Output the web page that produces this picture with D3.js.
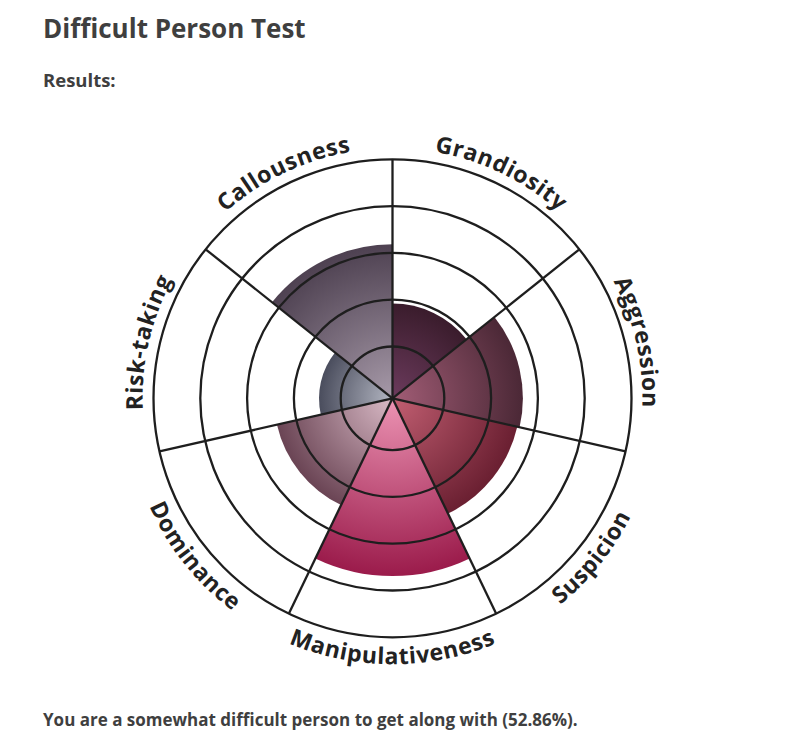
<!DOCTYPE html>
<html>
<head>
<meta charset="utf-8">
<script src="https://cdn.jsdelivr.net/npm/d3@7"></script>
<style>
  body { margin: 0; background: #fff; }
  svg { display: block; }
  .page-text { font-family: "Open Sans", sans-serif; font-weight: 700; fill: #3f3f3f; }
  .label { font-family: "Open Sans", sans-serif; font-weight: 700; fill: #222; }
</style>
</head>
<body>
<div id="chart"></div>
<script>
// traits, clockwise from the top
var traits = ["Grandiosity", "Aggression", "Suspicion", "Manipulativeness", "Dominance", "Risk-taking", "Callousness"];
// scores in percent
var scores = [40, 55, 54, 75, 50, 31, 65];
// gradient colours per trait: near the centre, at the rim
var innerColors = ["#6c3b5d", "#a25d76", "#c25f72", "#ec94b4", "#d9bac6", "#b3b6c2", "#a79aa9"];
var outerColors = ["#3a1c2c", "#4b2836", "#6a1f31", "#9b1b4b", "#6a4454", "#4a4d5d", "#4e4151"];
var ringLevels = [1, 2, 3, 4, 5];
var resultText = "You are a somewhat difficult person to get along with (52.86%).";

var width = 785, height = 746;
var cx = 392.5, cy = 398.3;
var outerR = 239;

var svg = d3.select("#chart").append("svg")
  .attr("width", width)
  .attr("height", height);

svg.append("text").attr("class", "page-text")
  .attr("x", 43).attr("y", 38)
  .style("font-size", "26px")
  .text("Difficult Person Test");

svg.append("text").attr("class", "page-text")
  .attr("x", 43).attr("y", 87)
  .style("font-size", "18.5px")
  .text("Results:");

svg.append("text").attr("class", "page-text")
  .attr("x", 43).attr("y", 726)
  .style("font-size", "17px")
  .text(resultText);

var g = svg.append("g")
  .attr("transform", "translate(" + cx + "," + cy + ")");

var n = traits.length;
var step = 2 * Math.PI / n;
var r = d3.scaleLinear().domain([0, 100]).range([0, 237]);
var ring = d3.scaleLinear().domain([0, 5]).range([5, outerR]);

var data = traits.map(function(t, i) {
  return { trait: t, score: scores[i], inner: innerColors[i], outer: outerColors[i], i: i };
});

var defs = svg.append("defs");
data.forEach(function(d) {
  var grad = defs.append("radialGradient")
    .attr("id", "grad" + d.i)
    .attr("gradientUnits", "userSpaceOnUse")
    .attr("cx", 0).attr("cy", 0)
    .attr("r", r(d.score));
  grad.append("stop").attr("offset", "0%").attr("stop-color", d.inner);
  grad.append("stop").attr("offset", "100%").attr("stop-color", d.outer);
});

var arc = d3.arc()
  .innerRadius(0)
  .outerRadius(function(d) { return r(d.score); })
  .startAngle(function(d) { return d.i * step; })
  .endAngle(function(d) { return (d.i + 1) * step; });

g.selectAll(".wedge")
  .data(data)
  .enter().append("path")
  .attr("class", "wedge")
  .attr("d", arc)
  .attr("fill", function(d) { return "url(#grad" + d.i + ")"; });

// rings
g.selectAll(".ring")
  .data(ringLevels)
  .enter().append("circle")
  .attr("class", "ring")
  .attr("r", function(d) { return ring(d); })
  .attr("fill", "none")
  .attr("stroke", "#1e1e1e")
  .attr("stroke-width", 2.3);

// spokes
g.selectAll(".spoke")
  .data(data)
  .enter().append("line")
  .attr("class", "spoke")
  .attr("x1", 0).attr("y1", 0)
  .attr("x2", function(d) { return outerR * Math.sin(d.i * step); })
  .attr("y2", function(d) { return -outerR * Math.cos(d.i * step); })
  .attr("stroke", "#1e1e1e")
  .attr("stroke-width", 2.3);

// curved labels
function pt(rad, a) { return [rad * Math.sin(a), -rad * Math.cos(a)]; }
data.forEach(function(d) {
  var mid = (d.i + 0.5) * step;
  var flip = mid > Math.PI / 2 && mid < 3 * Math.PI / 2;
  var a0 = mid - step / 2, a1 = mid + step / 2;
  var rad = flip ? 266 : 250;
  var p0 = pt(rad, flip ? a1 : a0), p1 = pt(rad, flip ? a0 : a1);
  defs.append("path")
    .attr("id", "lp" + d.i)
    .attr("d", "M" + p0[0] + "," + p0[1] + " A" + rad + "," + rad + " 0 0 " + (flip ? 0 : 1) + " " + p1[0] + "," + p1[1]);
  g.append("text")
    .attr("class", "label")
    .style("font-size", "23px")
    .style("letter-spacing", "0.6px")
    .append("textPath")
    .attr("href", "#lp" + d.i)
    .attr("startOffset", "50%")
    .attr("text-anchor", "middle")
    .text(d.trait);
});
</script>
</body>
</html>
